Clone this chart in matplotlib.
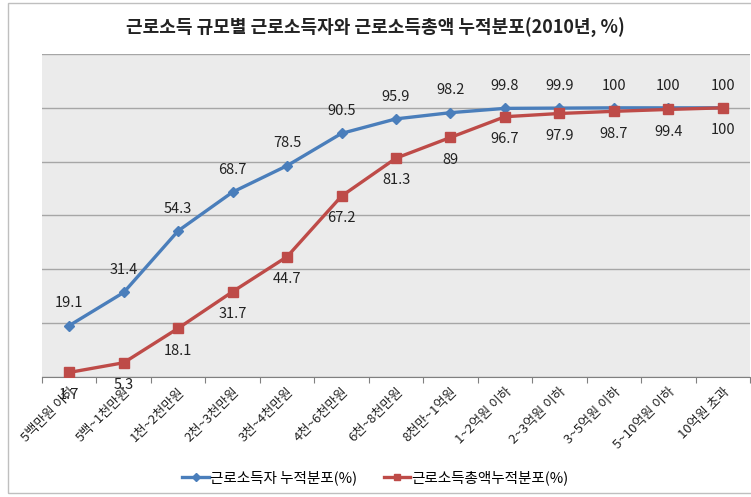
import matplotlib
matplotlib.use("Agg")
import matplotlib.pyplot as plt
from matplotlib.patches import Rectangle

plt.rcParams['font.family'] = ['Noto Sans CJK KR', 'DejaVu Sans']

# data
categories = ['5백만원 이하', '5백~1천만원', '1천~2천만원', '2천~3천만원', '3천~4천만원',
              '4천~6천만원', '6천~8천만원', '8천만~1억원', '1~2억원 이하', '2~3억원 이하',
              '3~5억원 이하', '5~10억원 이하', '10억원 초과']
earners = [19.1, 31.4, 54.3, 68.7, 78.5, 90.5, 95.9, 98.2, 99.8, 99.9, 100, 100, 100]
income = [1.7, 5.3, 18.1, 31.7, 44.7, 67.2, 81.3, 89, 96.7, 97.9, 98.7, 99.4, 100]
earners_label = '근로소득자 누적분포(%)'
income_label = '근로소득총액누적분포(%)'

blue = '#4A7EBB'
red = '#BE4B48'

W, H = 751, 497
fig = plt.figure(figsize=(W / 100, H / 100), dpi=100)

# outer chart frame
fig.patches.append(Rectangle((8 / W, 1 - 493 / H), 1.0, (493 - 3) / H,
                             transform=fig.transFigure, fill=False,
                             edgecolor='#BFBFBF', linewidth=1))

ax = fig.add_axes([42 / W, 1 - 377 / H, (750 - 42) / W, (377 - 54) / H])
ax.set_facecolor('#EBEBEB')

x = list(range(len(categories)))
ax.plot(x, earners, color=blue, lw=2.4, marker='D', ms=5.5, label=earners_label, zorder=3)
ax.plot(x, income, color=red, lw=2.4, marker='s', ms=6.5, label=income_label, zorder=3)

for xi, v in zip(x, earners):
    ax.annotate(f'{v:g}', (xi, v), xytext=(0, 16), textcoords='offset points',
                ha='center', va='center', fontsize=10.5, color='#222222')
for xi, v in zip(x, income):
    ax.annotate(f'{v:g}', (xi, v), xytext=(0, -16), textcoords='offset points',
                ha='center', va='center', fontsize=10.5, color='#222222')

ax.set_xlim(-0.5, len(categories) - 0.5)
ax.set_ylim(0, 120)
ax.set_yticks(range(0, 121, 20))
ax.yaxis.grid(True, color='#A6A6A6', lw=1)
ax.set_axisbelow(True)
ax.tick_params(axis='y', length=0, labelleft=False)

# category boundaries as ticks, labels at centres
ax.set_xticks([i - 0.5 for i in range(len(categories) + 1)], minor=False)
ax.set_xticklabels([])
ax.tick_params(axis='x', direction='out', length=4, color='#808080')
ax.set_xticks(x, minor=True)
ax.set_xticklabels(categories, minor=True, rotation=45, ha='right',
                   rotation_mode='anchor', fontsize=9.5, color='#222222')
ax.tick_params(axis='x', which='minor', length=0, pad=6)

for s in ['left', 'right', 'top']:
    ax.spines[s].set_visible(False)
ax.spines['bottom'].set_color('#808080')

fig.text(0.5, 1 - 28 / H, '근로소득 규모별 근로소득자와 근로소득총액 누적분포(2010년, %)',
         ha='center', va='center', fontsize=13, fontweight='bold', color='#222222')

fig.legend(loc='center', bbox_to_anchor=(0.5, 1 - 478 / H), ncol=2, frameon=False,
           fontsize=10.5, handlelength=1.8, handletextpad=0.1, columnspacing=1.8,
           markerscale=0.75, borderaxespad=0)

fig.savefig('out.png', dpi=100)
